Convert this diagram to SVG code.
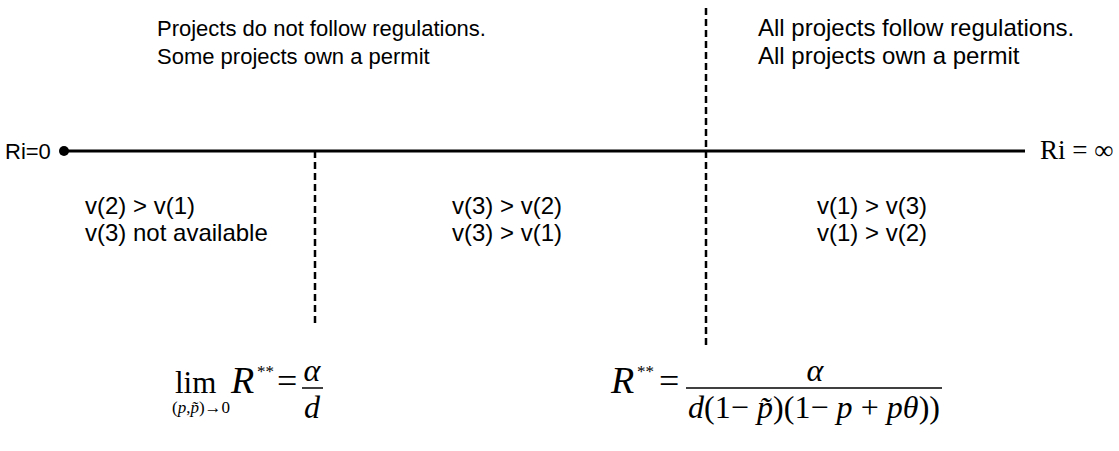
<svg xmlns="http://www.w3.org/2000/svg" width="1119" height="451" viewBox="0 0 1119 451">
<style>
.sans{font-family:"Liberation Sans",Arial,sans-serif;font-size:22px;fill:#000}
.big{font-size:24px}
.serif{font-family:"Liberation Serif","Times New Roman",serif;fill:#000}
.it{font-style:italic}
.dash{stroke:#000;stroke-width:2.5;stroke-dasharray:7 4;fill:none}
.axis{stroke:#000;stroke-width:3;fill:none}
.bar{stroke:#000;stroke-width:1.5}
</style>
<rect width="1119" height="451" fill="#fff"/>
<g id="connectors">
<line class="axis" x1="64" y1="151" x2="1025" y2="151"/>
<circle cx="64" cy="151" r="5" fill="#000"/>
<line class="dash" x1="315" y1="151" x2="315" y2="326"/>
<line class="dash" x1="706" y1="8" x2="706" y2="346"/>
</g>
<g id="top-left">
<text class="sans" x="157" y="36">Projects do not follow regulations.</text>
<text class="sans" x="157" y="64">Some projects own a permit</text>
</g>
<g id="top-right">
<text class="sans big" x="758" y="36">All projects follow regulations.</text>
<text class="sans big" x="758" y="64">All projects own a permit</text>
</g>
<g id="ri0"><text class="sans" x="5" y="159" font-size="21">Ri=0</text></g>
<g id="riinf"><text class="serif" x="1040" y="159" font-size="27">Ri = ∞</text></g>
<g id="region1">
<text class="sans big" x="85" y="214">v(2) &gt; v(1)</text>
<text class="sans big" x="85" y="241">v(3) not available</text>
</g>
<g id="region2">
<text class="sans big" x="452" y="214">v(3) &gt; v(2)</text>
<text class="sans big" x="452" y="241">v(3) &gt; v(1)</text>
</g>
<g id="region3">
<text class="sans big" x="817" y="214">v(1) &gt; v(3)</text>
<text class="sans big" x="817" y="241">v(1) &gt; v(2)</text>
</g>
<g id="formula-left">
<text class="serif" x="175" y="393" font-size="31">lim</text>
<text class="serif" x="172" y="413" font-size="17">(<tspan class="it">p</tspan>,<tspan class="it">p̃</tspan>)→0</text>
<text class="serif it" x="231" y="393" font-size="38">R</text>
<text class="serif" x="257" y="377" font-size="17">**</text>
<text class="serif" x="277" y="393" font-size="36">=</text>
<text class="serif it" x="312" y="381" font-size="32" text-anchor="middle">α</text>
<line class="bar" x1="302" y1="388" x2="323" y2="388"/>
<text class="serif it" x="312" y="418" font-size="32" text-anchor="middle">d</text>
</g>
<g id="formula-right">
<text class="serif it" x="611" y="393" font-size="38">R</text>
<text class="serif" x="637" y="377" font-size="17">**</text>
<text class="serif" x="659" y="393" font-size="36">=</text>
<text class="serif it" x="815" y="381" font-size="32" text-anchor="middle">α</text>
<line class="bar" x1="686" y1="388" x2="942" y2="388"/>
<text class="serif" x="688" y="418" font-size="32" textLength="252"><tspan class="it">d</tspan>(1− <tspan class="it">p̃</tspan>)(1− <tspan class="it">p</tspan> + <tspan class="it">pθ</tspan>))</text>
</g>
</svg>
